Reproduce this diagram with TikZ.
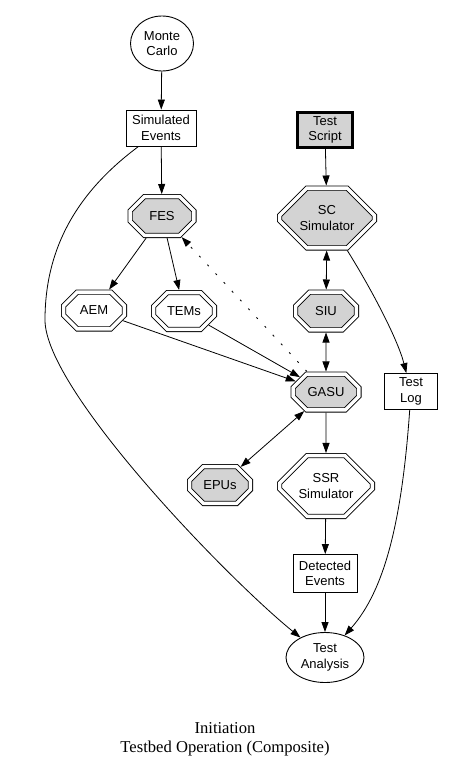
\documentclass[tikz,border=0pt]{standalone}
\usepackage{fontspec}
\setmainfont{Liberation Sans}
\newfontfamily\capfont{Liberation Serif}
\usetikzlibrary{shapes.misc,shapes.geometric,arrows.meta}
\definecolor{lg}{HTML}{D3D3D3}
\tikzset{
  base/.style={font=\fontsize{13}{15.5}\selectfont, align=center, inner sep=0pt, line width=0.9pt},
  oct/.style n args={2}{base, chamfered rectangle, draw, double, double distance=3.4pt, outer sep=2.6pt,
     minimum width=#1, minimum height=#2,
     chamfered rectangle xsep={0.22*#1}, chamfered rectangle ysep={0.25*#2}},
  rbox/.style n args={2}{base, rectangle, draw, minimum width=#1, minimum height=#2},
  ell/.style n args={2}{base, ellipse, draw, minimum width=#1, minimum height=#2},
  arr/.style={line width=0.8pt, -{Triangle[length=10pt,width=7pt]}},
  darr/.style={line width=0.8pt, {Triangle[length=10pt,width=7pt]}-{Triangle[length=10pt,width=7pt]}},
  dotarr/.style={line width=0.9pt, dash pattern=on 2pt off 10pt, -{Triangle[length=10pt,width=7pt]}},
}
\begin{document}
\begin{tikzpicture}[x=1pt,y=-1pt]
\useasboundingbox[fill=white] (0,0) rectangle (448,773);
% nodes
\node[ell={63pt}{55pt}] (mc) at (162,43.5) {Monte\\Carlo};
\node[rbox={70pt}{36pt}] (se) at (161,128) {Simulated\\Events};
\node[rbox={55pt}{35pt}, line width=3pt, fill=lg] (ts) at (325,130) {Test\\Script};
\node[oct={63.8pt}{38.8pt}, fill=lg] (fes) at (162,216) {FES};
\node[oct={94.8pt}{59.8pt}, fill=lg] (sc) at (327,218) {SC\\Simulator};
\node[oct={60.8pt}{36.8pt}] (aem) at (94,310.5) {AEM};
\node[oct={60.8pt}{36.8pt}] (tems) at (184,311) {TEMs};
\node[oct={60.8pt}{37.8pt}, fill=lg] (siu) at (326,311) {SIU};
\node[oct={65.8pt}{35.8pt}, fill=lg] (gasu) at (326,392) {GASU};
\node[rbox={53pt}{36pt}] (tl) at (411,391.5) {Test\\Log};
\node[oct={60.8pt}{36.8pt}, fill=lg] (epus) at (220,485) {EPUs};
\node[oct={92.8pt}{60.8pt}] (ssr) at (326,486) {SSR\\Simulator};
\node[rbox={64pt}{38pt}] (de) at (325,573.5) {Detected\\Events};
\node[ell={78pt}{50pt}] (ta) at (325,657.5) {Test\\Analysis};
\node[font=\capfont\fontsize{16.6}{18.5}\selectfont, align=center, inner sep=0pt] (cap) at (225,739.5) {Initiation\\Testbed Operation (Composite)};
% edges
\draw[arr] (mc) -- (se);
\draw[arr] (se) -- (fes);
\draw[arr] ([xshift=13pt]se.south west) .. controls (80,190) and (45,245) .. (45,320)
   .. controls (45,390) and (227,578) .. (ta);
\draw[arr] (ts) -- (sc);
\draw[arr] (fes) -- (aem);
\draw[arr] (fes) -- (tems);
\draw[darr] (sc) -- (siu);
\draw[arr] (sc) .. controls (372,290) and (398,340) .. (tl);
\draw[dotarr] (gasu) -- (fes);
\draw[darr] (siu) -- (gasu);
\draw[arr] (aem) -- (gasu);
\draw[arr] (tems) -- (gasu);
\draw[darr] (gasu) -- (epus);
\draw[arr] (gasu) -- (ssr);
\draw[arr] (ssr) -- (de);
\draw[arr] (de) -- (ta);
\draw[arr] (tl) .. controls (402,520) and (385,590) .. (ta);
\end{tikzpicture}
\end{document}
